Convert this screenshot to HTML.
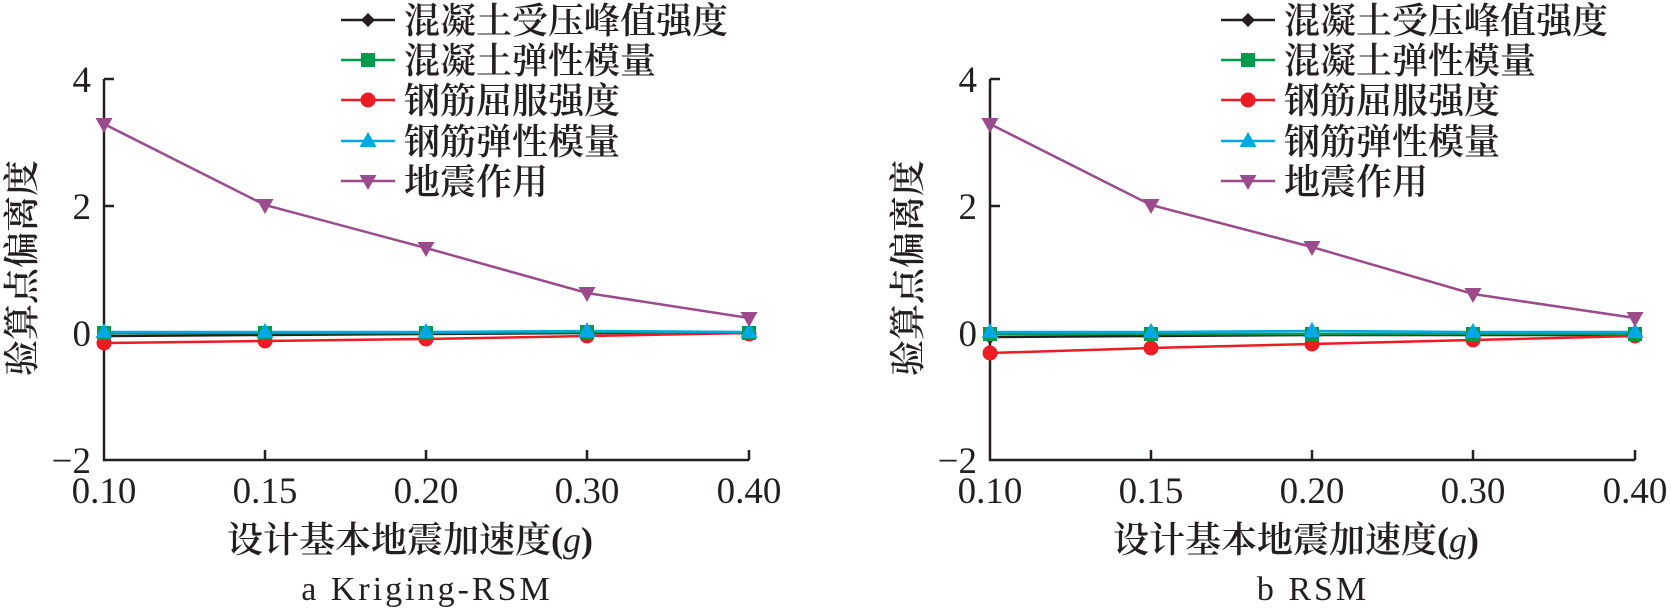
<!DOCTYPE html>
<html><head><meta charset="utf-8"><style>
html,body{margin:0;padding:0;background:#fff;}
svg{display:block;}
.t{font-family:"Liberation Serif","Noto Serif CJK SC","Noto Sans CJK SC",serif;fill:#231f20;}
.c{font-family:"Liberation Serif","Noto Serif CJK SC","Noto Sans CJK SC",serif;fill:#231f20;font-weight:600;}
</style></head><body>
<svg width="1671" height="609" viewBox="0 0 1671 609" xmlns="http://www.w3.org/2000/svg">
<defs>
<g id="dia"><path d="M0,-7 L7,0 L0,7 L-7,0Z" fill="#231f20"/></g>
<g id="sq"><rect x="-7" y="-7" width="14" height="14" fill="#009a4e"/></g>
<g id="ci"><circle r="7.5" fill="#ed1c24"/></g>
<g id="tu"><path d="M0,-9 L8.5,6 L-8.5,6Z" fill="#00a8e6"/></g>
<g id="td"><path d="M0,9 L8.5,-6 L-8.5,-6Z" fill="#9b4a8c"/></g>
</defs>

<!-- ===== Panel a ===== -->
<g>
<text class="c" font-size="36" transform="translate(34,268) rotate(-90)" text-anchor="middle">验算点偏离度</text>
<g stroke="#231f20" stroke-width="2.5" fill="none">
<path d="M104,79 V460 H749"/>
<path d="M104,79 h10 M104,206 h10 M104,333 h10"/>
<path d="M265,460 v-10 M426,460 v-10 M587,460 v-10 M749,460 v-10"/>
</g>
<g class="t" font-size="37" text-anchor="end">
<text x="91" y="92">4</text><text x="91" y="219">2</text><text x="91" y="346">0</text><text x="91" y="473">−2</text>
</g>
<g class="t" font-size="37" text-anchor="middle">
<text x="104" y="503">0.10</text><text x="265" y="503">0.15</text><text x="426" y="503">0.20</text><text x="587" y="503">0.30</text><text x="749" y="503">0.40</text>
</g>
<text class="c" font-size="36" x="410" y="552" text-anchor="middle">设计基本地震加速度(<tspan font-style="italic" font-weight="normal">g</tspan>)</text>
<text class="t" font-size="34" x="427" y="600" text-anchor="middle" letter-spacing="3">a Kriging-RSM</text>

<g fill="none" stroke-width="2.5">
<polyline stroke="#231f20" points="104,336 265,335 426,334 587,333 749,333"/>
<polyline stroke="#009a4e" points="104,333 265,333 426,333 587,332 749,333"/>
<polyline stroke="#ed1c24" points="104,343 265,341 426,339 587,336 749,333"/>
<polyline stroke="#00a8e6" points="104,332 265,332 426,332 587,331 749,332"/>
<polyline stroke="#9b4a8c" points="104,124 265,205 426,248 587,293 749,318"/>
</g>
<g>
<use href="#dia" x="104" y="336"/><use href="#dia" x="265" y="335"/><use href="#dia" x="426" y="334"/><use href="#dia" x="587" y="333"/><use href="#dia" x="749" y="334"/>
<use href="#ci" x="104" y="343"/><use href="#ci" x="265" y="341"/><use href="#ci" x="426" y="339"/><use href="#ci" x="587" y="336"/><use href="#ci" x="749" y="334"/>
<use href="#sq" x="104" y="333"/><use href="#sq" x="265" y="333"/><use href="#sq" x="426" y="333"/><use href="#sq" x="587" y="332"/><use href="#sq" x="749" y="333"/>
<use href="#tu" x="104" y="332"/><use href="#tu" x="265" y="332"/><use href="#tu" x="426" y="332"/><use href="#tu" x="587" y="331"/><use href="#tu" x="749" y="332"/>
<use href="#td" x="104" y="124"/><use href="#td" x="265" y="205"/><use href="#td" x="426" y="248"/><use href="#td" x="587" y="293"/><use href="#td" x="749" y="318"/>
</g>

<!-- legend a -->
<g stroke-width="2.5">
<line x1="341" y1="20" x2="395" y2="20" stroke="#231f20"/><use href="#dia" x="368" y="20"/>
<line x1="341" y1="60" x2="395" y2="60" stroke="#009a4e"/><use href="#sq" x="368" y="60"/>
<line x1="341" y1="100" x2="395" y2="100" stroke="#ed1c24"/><use href="#ci" x="368" y="100"/>
<line x1="341" y1="141" x2="395" y2="141" stroke="#00a8e6"/><use href="#tu" x="368" y="141"/>
<line x1="341" y1="181" x2="395" y2="181" stroke="#9b4a8c"/><use href="#td" x="368" y="181"/>
</g>
<g class="c" font-size="36">
<text x="404" y="33">混凝土受压峰值强度</text>
<text x="404" y="73">混凝土弹性模量</text>
<text x="404" y="113">钢筋屈服强度</text>
<text x="404" y="154">钢筋弹性模量</text>
<text x="404" y="194">地震作用</text>
</g>
</g>

<!-- ===== Panel b ===== -->
<g transform="translate(886,0)">
<text class="c" font-size="36" transform="translate(34,268) rotate(-90)" text-anchor="middle">验算点偏离度</text>
<g stroke="#231f20" stroke-width="2.5" fill="none">
<path d="M104,79 V460 H749"/>
<path d="M104,79 h10 M104,206 h10 M104,333 h10"/>
<path d="M265,460 v-10 M426,460 v-10 M587,460 v-10 M749,460 v-10"/>
</g>
<g class="t" font-size="37" text-anchor="end">
<text x="91" y="92">4</text><text x="91" y="219">2</text><text x="91" y="346">0</text><text x="91" y="473">−2</text>
</g>
<g class="t" font-size="37" text-anchor="middle">
<text x="104" y="503">0.10</text><text x="265" y="503">0.15</text><text x="426" y="503">0.20</text><text x="587" y="503">0.30</text><text x="749" y="503">0.40</text>
</g>
<text class="c" font-size="36" x="410" y="552" text-anchor="middle">设计基本地震加速度(<tspan font-style="italic" font-weight="normal">g</tspan>)</text>
<text class="t" font-size="34" x="427" y="600" text-anchor="middle" letter-spacing="3">b RSM</text>

<g fill="none" stroke-width="2.5">
<polyline stroke="#231f20" points="104,337 265,336 426,335 587,335 749,335"/>
<polyline stroke="#009a4e" points="104,334 265,334 426,334 587,334 749,334"/>
<polyline stroke="#ed1c24" points="104,353 265,348 426,344 587,340 749,336"/>
<polyline stroke="#00a8e6" points="104,332 265,332 426,331 587,332 749,332"/>
<polyline stroke="#9b4a8c" points="104,124 265,205 426,247 587,294 749,318"/>
</g>
<g>
<use href="#dia" x="104" y="337"/><use href="#dia" x="265" y="336"/><use href="#dia" x="426" y="335"/><use href="#dia" x="587" y="335"/><use href="#dia" x="749" y="336"/>
<use href="#ci" x="104" y="353"/><use href="#ci" x="265" y="348"/><use href="#ci" x="426" y="344"/><use href="#ci" x="587" y="340"/><use href="#ci" x="749" y="336"/>
<use href="#sq" x="104" y="334"/><use href="#sq" x="265" y="334"/><use href="#sq" x="426" y="334"/><use href="#sq" x="587" y="334"/><use href="#sq" x="749" y="334"/>
<use href="#tu" x="104" y="332"/><use href="#tu" x="265" y="332"/><use href="#tu" x="426" y="331"/><use href="#tu" x="587" y="332"/><use href="#tu" x="749" y="332"/>
<use href="#td" x="104" y="124"/><use href="#td" x="265" y="205"/><use href="#td" x="426" y="247"/><use href="#td" x="587" y="294"/><use href="#td" x="749" y="318"/>
</g>
</g>

<!-- legend b -->
<g stroke-width="2.5">
<line x1="1221" y1="20" x2="1275" y2="20" stroke="#231f20"/><use href="#dia" x="1248" y="20"/>
<line x1="1221" y1="60" x2="1275" y2="60" stroke="#009a4e"/><use href="#sq" x="1248" y="60"/>
<line x1="1221" y1="100" x2="1275" y2="100" stroke="#ed1c24"/><use href="#ci" x="1248" y="100"/>
<line x1="1221" y1="141" x2="1275" y2="141" stroke="#00a8e6"/><use href="#tu" x="1248" y="141"/>
<line x1="1221" y1="181" x2="1275" y2="181" stroke="#9b4a8c"/><use href="#td" x="1248" y="181"/>
</g>
<g class="c" font-size="36">
<text x="1284" y="33">混凝土受压峰值强度</text>
<text x="1284" y="73">混凝土弹性模量</text>
<text x="1284" y="113">钢筋屈服强度</text>
<text x="1284" y="154">钢筋弹性模量</text>
<text x="1284" y="194">地震作用</text>
</g>
</svg>
</body></html>
